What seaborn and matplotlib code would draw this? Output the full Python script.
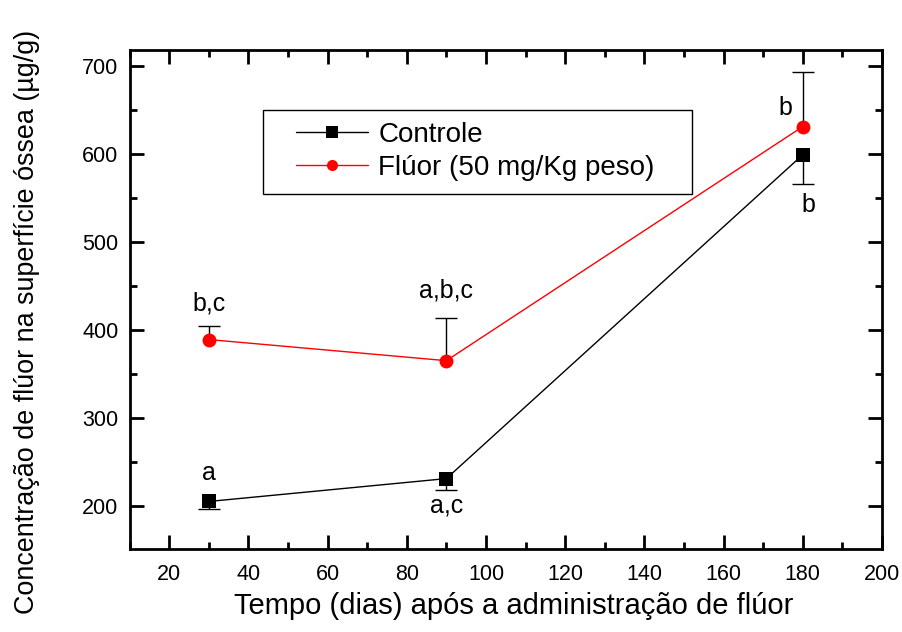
import matplotlib
matplotlib.use("Agg")
import matplotlib.pyplot as plt
import seaborn as sns
import pandas as pd
from matplotlib.ticker import MultipleLocator
from matplotlib.patches import Rectangle

dias = [30, 90, 180]
controle = [205, 231, 599]
controle_err = [8, 13, 33]
fluor = [389, 365, 631]
fluor_err = [15, 49, 62]
series_names = ["Controle", "Flúor (50 mg/Kg peso)"]

anot_controle = ["a", "a,c", "b"]
anot_fluor = ["b,c", "a,b,c", "b"]

sns.set_theme(style="ticks")
plt.rcParams['font.family'] = ['Liberation Sans', 'DejaVu Sans']
plt.rcParams['text.color'] = 'black'
plt.rcParams['axes.labelcolor'] = 'black'
plt.rcParams['xtick.color'] = 'black'
plt.rcParams['ytick.color'] = 'black'

df = pd.DataFrame({
    "dias": dias * 2,
    "valor": controle + fluor,
    "grupo": [series_names[0]] * 3 + [series_names[1]] * 3,
})

fig = plt.figure(figsize=(9.03, 6.32), dpi=100)
L, R, T, B = 129.5, 882, 50, 549
W, H = R - L, B - T
ax = fig.add_axes([L / 903, 1 - B / 632, W / 903, H / 632])

def px(x, y):
    return ((x - L) / W, 1 - (y - T) / H)

# error bars (one-sided)
zeros = [0] * len(dias)
eb1 = ax.errorbar(dias, controle, yerr=[controle_err, zeros], fmt='none', ecolor='black',
                  elinewidth=1, capsize=8, capthick=1, zorder=2)
eb1[1][1].set_visible(False)
eb2 = ax.errorbar(dias, fluor, yerr=[zeros, fluor_err], fmt='none', ecolor='black',
                  elinewidth=1, capsize=8, capthick=1, zorder=2)
eb2[1][0].set_visible(False)

sns.lineplot(data=df, x="dias", y="valor", hue="grupo", style="grupo",
             palette={series_names[0]: "black", series_names[1]: "red"},
             markers={series_names[0]: "s", series_names[1]: "o"},
             dashes=False, markersize=10, markeredgewidth=0, linewidth=1,
             ax=ax, zorder=3)

ax.set_xlim(10, 200)
ax.set_ylim(151, 718)
ax.xaxis.set_major_locator(MultipleLocator(20))
ax.xaxis.set_minor_locator(MultipleLocator(10))
ax.yaxis.set_major_locator(MultipleLocator(100))
ax.yaxis.set_minor_locator(MultipleLocator(50))
ax.tick_params(which='both', direction='in', top=True, right=True, width=2, colors='black',
               labelsize=15.5)
ax.tick_params(axis='y', pad=8)
ax.tick_params(axis='x', pad=11)
ax.tick_params(which='major', length=10)
ax.tick_params(which='minor', length=5)
for s in ax.spines.values():
    s.set_linewidth(2)
    s.set_color('black')

ax.set_xlabel("Tempo (dias) após a administração de flúor", fontsize=21)
ax.set_ylabel("Concentração de flúor na superfície óssea (µg/g)", fontsize=19.4)
ax.xaxis.set_label_coords(*px(513.5, 592))
ax.yaxis.set_label_coords(*px(40, 322))

# annotations
fs = 18
ax.text(30, 237, anot_controle[0], ha='center', va='center', fontsize=fs)
ax.text(90, 200, anot_controle[1], ha='center', va='center', fontsize=fs)
ax.text(181.5, 542, anot_controle[2], ha='center', va='center', fontsize=fs)
ax.text(30, 430, anot_fluor[0], ha='center', va='center', fontsize=fs)
ax.text(90, 445, anot_fluor[1], ha='center', va='center', fontsize=fs)
ax.text(175.5, 652, anot_fluor[2], ha='center', va='center', fontsize=fs)

# legend
x0, y0 = px(263, 194)
x1, y1 = px(692, 110)
ax.add_patch(Rectangle((x0, y0), x1 - x0, y1 - y0, transform=ax.transAxes,
                       fill=False, edgecolor='black', linewidth=1, zorder=5))
leg = ax.legend(loc='upper left', bbox_to_anchor=px(296, 122),
                frameon=False, fontsize=20, handlelength=2.6, markerscale=0.8,
                borderpad=0, labelspacing=0.25, handletextpad=0.36, borderaxespad=0)
leg.set_title(None)
for t in leg.get_texts():
    t.set_color('black')

fig.savefig("out.png", dpi=100)
